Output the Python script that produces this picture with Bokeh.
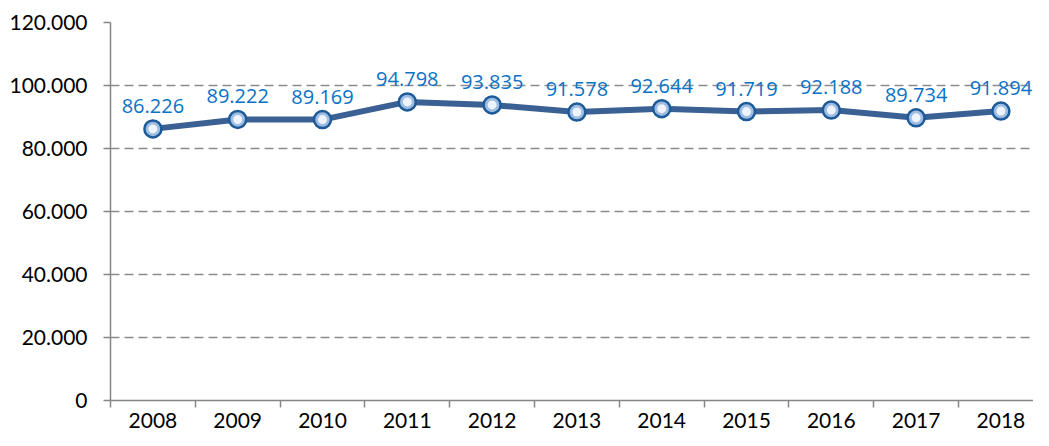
from bokeh.plotting import figure
from bokeh.models import FixedTicker, Range1d, ColumnDataSource
from bokeh.core.properties import value
from bokeh.embed import file_html
from bokeh.resources import INLINE

years = ["2008", "2009", "2010", "2011", "2012", "2013", "2014", "2015", "2016", "2017", "2018"]
values = [86226, 89222, 89169, 94798, 93835, 91578, 92644, 91719, 92188, 89734, 91894]
value_labels = ["86.226", "89.222", "89.169", "94.798", "93.835", "91.578", "92.644", "91.719", "92.188", "89.734", "91.894"]
y_ticks = [0, 20000, 40000, 60000, 80000, 100000, 120000]
y_tick_labels = ["0", "20.000", "40.000", "60.000", "80.000", "100.000", "120.000"]

xs = [i + 0.5 for i in range(len(years))]
src = ColumnDataSource(dict(x=xs, y=values, lab=value_labels))

W, H = 1033, 430
left, top, bottom = 110, 22, 30
frame_w = W - left
cat_w = 84.8

p = figure(width=W, height=H, output_backend="svg", toolbar_location=None,
           x_range=Range1d(0, frame_w / cat_w), y_range=Range1d(0, 120000),
           min_border_left=left, min_border_right=0, min_border_top=top, min_border_bottom=bottom)
p.outline_line_color = None
p.background_fill_color = "white"
p.border_fill_color = "white"

# x axis: labels at centers, minor ticks at category boundaries
p.xaxis.ticker = FixedTicker(ticks=xs, minor_ticks=list(range(len(years) + 1)))
p.xaxis.major_label_overrides = {x: y for x, y in zip(xs, years)}
p.xaxis.major_tick_out = 0
p.xaxis.major_tick_in = 0
p.xaxis.minor_tick_out = 7
p.xaxis.minor_tick_in = 0
p.xaxis.major_label_standoff = 5
p.xaxis.axis_line_color = "#868686"
p.xaxis.axis_line_width = 1.5
p.xaxis.minor_tick_line_color = "#868686"
p.xaxis.minor_tick_line_width = 1.5
p.xaxis.major_label_text_font = "Lato"
p.xaxis.major_label_text_font_size = "21px"
p.xaxis.major_label_text_color = "#000000"

p.yaxis.ticker = FixedTicker(ticks=y_ticks, minor_ticks=[])
p.yaxis.major_label_overrides = {t: l for t, l in zip(y_ticks, y_tick_labels)}
p.yaxis.major_tick_out = 7
p.yaxis.major_tick_in = 0
p.yaxis.major_tick_line_color = "#868686"
p.yaxis.major_tick_line_width = 1.5
p.yaxis.axis_line_color = "#868686"
p.yaxis.axis_line_width = 1.5
p.yaxis.major_label_standoff = 16
p.yaxis.major_label_text_font = "Lato"
p.yaxis.major_label_text_font_size = "21px"
p.yaxis.major_label_text_color = "#000000"

p.xgrid.grid_line_color = None
p.ygrid.ticker = FixedTicker(ticks=y_ticks[1:])
p.ygrid.grid_line_color = "#8c8c8c"
p.ygrid.grid_line_width = 1.5
p.ygrid.grid_line_dash = "9 5"

p.line("x", "y", source=src, line_color="#3a6094", line_width=6)
p.scatter("x", "y", source=src, size=17, fill_color="#9fbde2", line_color="#1c5a98", line_width=2.5)
p.scatter("x", "y", source=src, size=9, fill_color="#eef4fb", line_color=None)

p.text("x", "y", text="lab", source=src, text_align="center", text_baseline="bottom",
       y_offset=-16, text_font=value("Open Sans"), text_font_size="20px", text_color="#0a72c6")

open("out.html", "w").write(file_html(p, INLINE))
